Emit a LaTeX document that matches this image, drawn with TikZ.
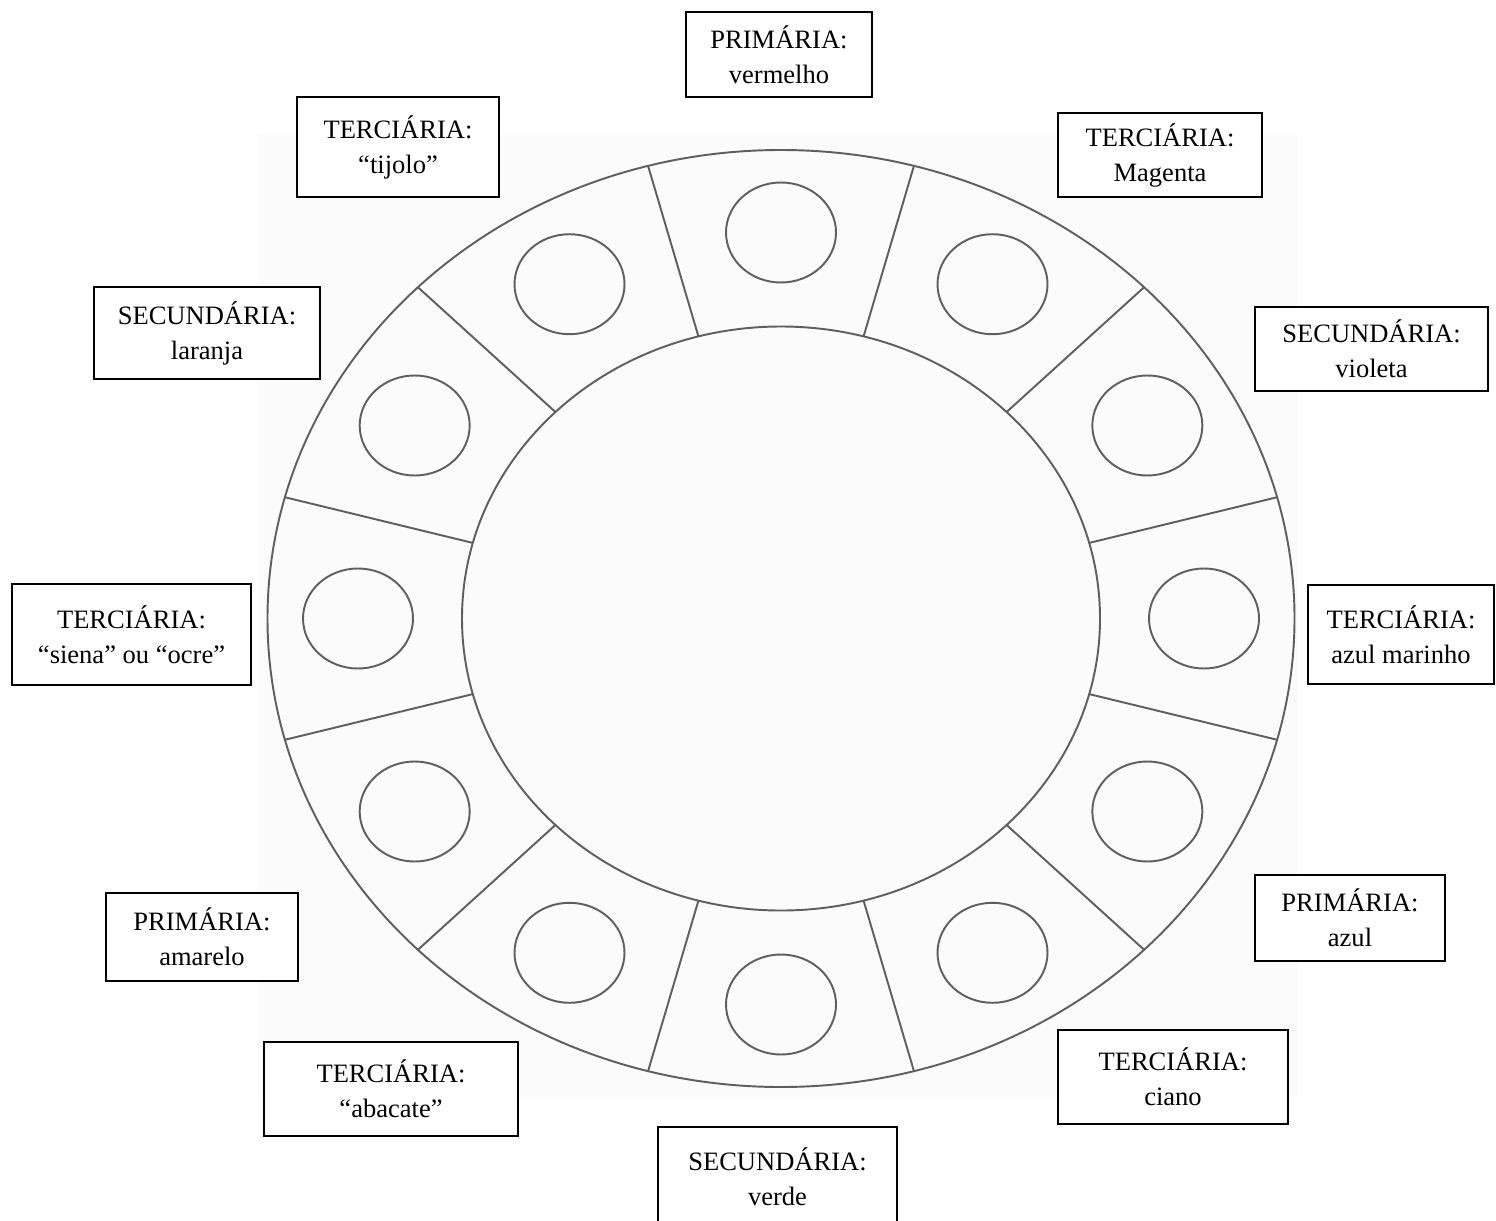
\documentclass[tikz,border=0pt]{standalone}
\usepackage{fontspec}
\setmainfont{Liberation Serif}
\usetikzlibrary{positioning}
\definecolor{WheelGray}{HTML}{5F5F5F}
\definecolor{PaperBg}{HTML}{FAFBFA}

\begin{document}
\begin{tikzpicture}[
  x=0.02cm, y=-0.02cm,
  wheel/.style={draw=WheelGray, line width=1.1pt},
  lbl/.style={draw=black, fill=white, line width=1.3pt, align=center, inner sep=0pt, font=\fontsize{15.1}{19.9}\selectfont}
]
\useasboundingbox (0,0) rectangle (1496,1220);
\clip (0,0) rectangle (1496,1220);
\fill[PaperBg] (258,135) rectangle (1298,1097);
% wheel: rims, spokes, paint wells
\draw[wheel] (781,618.5) ellipse [x radius=513.5, y radius=468.5];
\draw[wheel] (781,618.5) ellipse [x radius=319, y radius=292];
\foreach \a in {15,45,...,345}
  \draw[wheel] ({781+319*cos(\a)},{618.5-292*sin(\a)}) -- ({781+513.5*cos(\a)},{618.5-468.5*sin(\a)});
\foreach \a in {0,30,...,330}
  \draw[wheel] ({781+423*cos(\a)},{618.5-386*sin(\a)}) ellipse [x radius=55, y radius=50];
% labels
\node[lbl, minimum width=3.72cm, minimum height=1.70cm] (vermelho) at (779,54.5) {PRIMÁRIA:\\vermelho};
\node[lbl, minimum width=4.04cm, minimum height=2.00cm] (tijolo) at (398,147) {TERCIÁRIA:\\“tijolo”};
\node[lbl, minimum width=4.08cm, minimum height=1.68cm] (magenta) at (1160,155) {TERCIÁRIA:\\Magenta};
\node[lbl, minimum width=4.52cm, minimum height=1.84cm] (laranja) at (207,333) {SECUNDÁRIA:\\laranja};
\node[lbl, minimum width=4.66cm, minimum height=1.68cm] (violeta) at (1371.5,349) {SECUNDÁRIA:\\violeta};
\node[lbl, minimum width=4.78cm, minimum height=2.02cm] (siena) at (131.5,634.5) {TERCIÁRIA:\\“siena” ou “ocre”};
\node[lbl, minimum width=3.72cm, minimum height=1.98cm] (marinho) at (1401,634.5) {TERCIÁRIA:\\azul marinho};
\node[lbl, minimum width=3.84cm, minimum height=1.76cm] (amarelo) at (202,937) {PRIMÁRIA:\\amarelo};
\node[lbl, minimum width=3.80cm, minimum height=1.72cm] (azul) at (1350,918) {PRIMÁRIA:\\azul};
\node[lbl, minimum width=5.08cm, minimum height=1.88cm] (abacate) at (391,1089) {TERCIÁRIA:\\“abacate”};
\node[lbl, minimum width=4.60cm, minimum height=1.88cm] (ciano) at (1173,1077) {TERCIÁRIA:\\ciano};
\node[lbl, minimum width=4.78cm, minimum height=2.00cm] (verde) at (777.5,1177) {SECUNDÁRIA:\\verde};
\end{tikzpicture}
\end{document}
